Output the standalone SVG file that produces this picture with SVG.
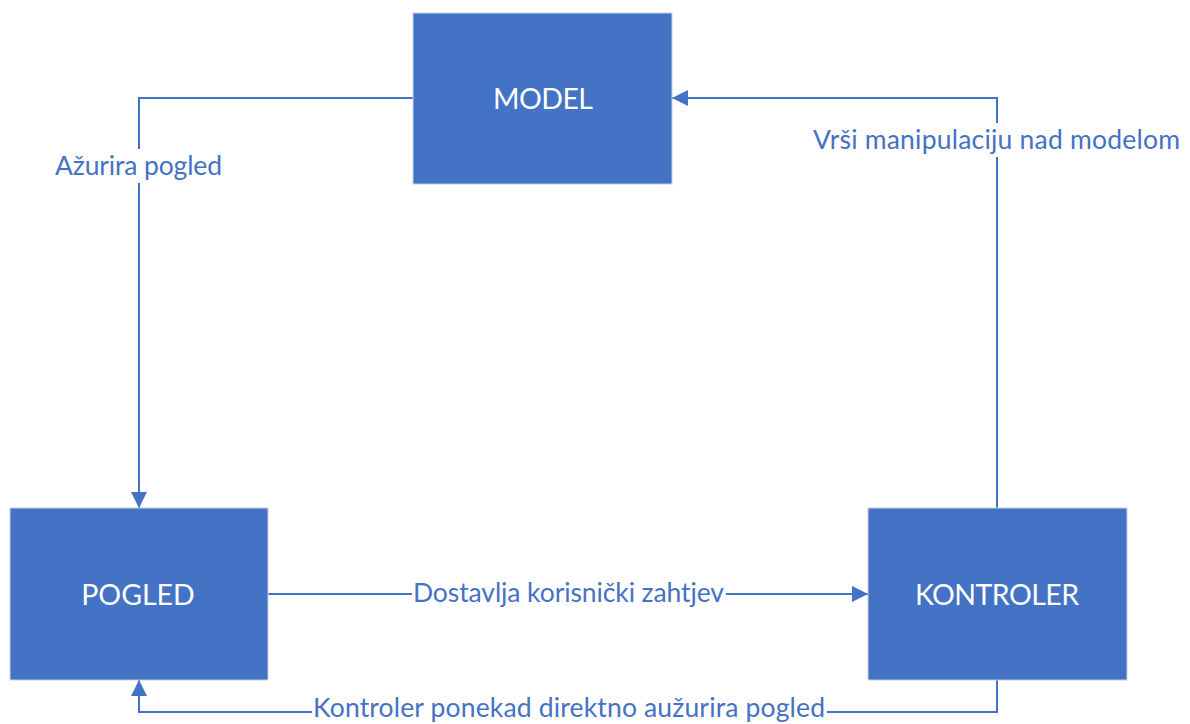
<svg xmlns="http://www.w3.org/2000/svg" width="1190" height="724" viewBox="0 0 1190 724">
<defs>
<style>
.node rect{fill:#4472C4;stroke:#c7d1e4;stroke-width:1}
.node text{fill:#ffffff;font-family:Lato,"Liberation Sans",sans-serif;font-size:28.5px;text-anchor:middle}
.edge path{fill:none;stroke:#4472C4;stroke-width:2}
.lbl rect{fill:#ffffff}
.lbl text{fill:#4472C4;font-family:Lato,"Liberation Sans",sans-serif;font-size:26.5px;text-anchor:middle}
</style>
<marker id="arr" viewBox="0 0 16 16" refX="16" refY="8" markerWidth="16" markerHeight="16" markerUnits="userSpaceOnUse" orient="auto">
<path d="M0,0 L16,8 L0,16 Z" fill="#4472C4"/>
</marker>
</defs>
<g id="connectors" class="edge">
<path d="M413,98 H139 V508" marker-end="url(#arr)"/>
<path d="M997,508 V98 H672" marker-end="url(#arr)"/>
<path d="M268,594 H868" marker-end="url(#arr)"/>
<path d="M997,680 V712 H139 V680" marker-end="url(#arr)"/>
</g>
<g id="labels" class="lbl">
<rect x="54" y="149" width="170" height="34"/>
<text x="138.5" y="175" textLength="167">Ažurira pogled</text>
<rect x="812" y="123" width="370" height="34"/>
<text x="996.5" y="149" textLength="367">Vrši manipulaciju nad modelom</text>
<rect x="412" y="578" width="314" height="32"/>
<text x="568.5" y="602" textLength="311">Dostavlja korisnički zahtjev</text>
<rect x="312" y="696" width="515" height="28"/>
<text x="569" y="717" textLength="512">Kontroler ponekad direktno aužurira pogled</text>
</g>
<g id="model" class="node">
<rect x="413" y="13" width="259" height="171"/>
<text x="543" y="109" textLength="100">MODEL</text>
</g>
<g id="pogled" class="node">
<rect x="10" y="508" width="258" height="172"/>
<text x="138" y="605">POGLED</text>
</g>
<g id="kontroler" class="node">
<rect x="868" y="508" width="259" height="172"/>
<text x="997" y="605" textLength="164">KONTROLER</text>
</g>
</svg>
